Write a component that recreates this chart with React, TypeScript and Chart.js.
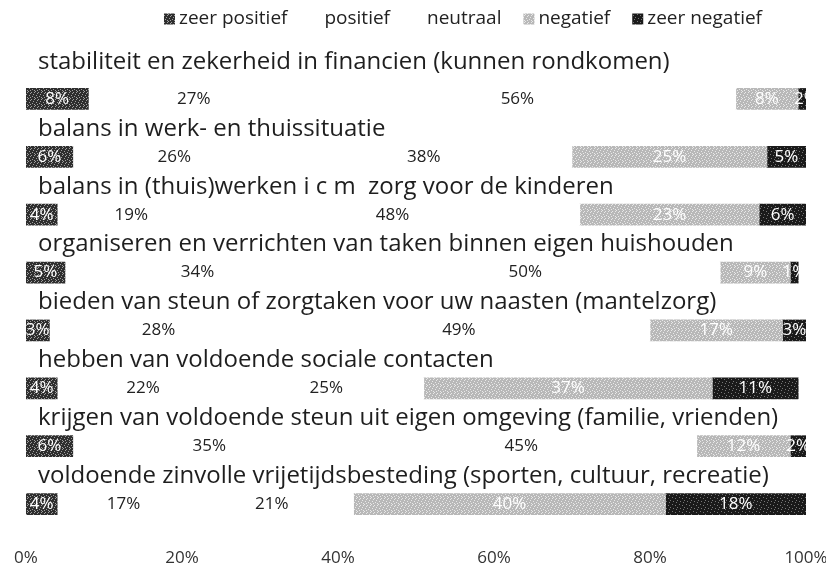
import React, { useEffect, useRef } from "react";
import { Chart, registerables } from "chart.js";

Chart.register(...registerables);

const categories = [
  "stabiliteit en zekerheid in financien (kunnen rondkomen)",
  "balans in werk- en thuissituatie",
  "balans in (thuis)werken i c m  zorg voor de kinderen",
  "organiseren en verrichten van taken binnen eigen huishouden",
  "bieden van steun of zorgtaken voor uw naasten (mantelzorg)",
  "hebben van voldoende sociale contacten",
  "krijgen van voldoende steun uit eigen omgeving (familie, vrienden)",
  "voldoende zinvolle vrijetijdsbesteding (sporten, cultuur, recreatie)",
];

const seriesNames = ["zeer positief", "positief", "neutraal", "negatief", "zeer negatief"];

const zeerPositief = [8, 6, 4, 5, 3, 4, 6, 4];
const positief = [27, 26, 19, 34, 28, 22, 35, 17];
const neutraal = [56, 38, 48, 50, 49, 25, 45, 21];
const negatief = [8, 25, 23, 9, 17, 37, 12, 40];
const zeerNegatief = [2, 5, 6, 1, 3, 11, 2, 18];

const xTickValues = [0, 20, 40, 60, 80, 100];

const FONT = "'Open Sans', 'DejaVu Sans', sans-serif";

function makePattern(base: string, speck: string, cells: number[][], size: number) {
  const c = document.createElement("canvas");
  c.width = size;
  c.height = size;
  const g = c.getContext("2d")!;
  g.fillStyle = base;
  g.fillRect(0, 0, size, size);
  g.fillStyle = speck;
  cells.forEach(([x, y]) => g.fillRect(x, y, 1, 1));
  return g.createPattern(c, "repeat")!;
}

const speckCells = [[0, 0], [3, 1], [5, 3], [1, 4], [4, 5], [2, 2], [6, 6], [2, 6], [6, 1]];

export default function App() {
  const ref = useRef<HTMLCanvasElement | null>(null);

  useEffect(() => {
    if (!ref.current) return;
    const pDark = makePattern("#2e2e2e", "#a0a0a0", speckCells, 7);
    const pLight = makePattern("#b8b8b8", "#e8e8e8", speckCells, 7);
    const pBlack = makePattern("#1a1a1a", "#777777", speckCells.slice(0, 5), 7);

    const values = [zeerPositief, positief, neutraal, negatief, zeerNegatief];
    const fills: any[] = [pDark, "#ffffff", "#ffffff", pLight, pBlack];
    const textColors = ["#ffffff", "#222222", "#222222", "#ffffff", "#ffffff"];

    const labelPlugin = {
      id: "segLabels",
      afterDatasetsDraw(chart: any) {
        const { ctx, chartArea } = chart;
        // segment value labels
        ctx.save();
        ctx.beginPath();
        ctx.rect(chartArea.left, chartArea.top, chartArea.right - chartArea.left, chartArea.bottom - chartArea.top);
        ctx.clip();
        ctx.font = `17px ${FONT}`;
        ctx.textAlign = "center";
        ctx.textBaseline = "middle";
        chart.data.datasets.forEach((ds: any, di: number) => {
          const meta = chart.getDatasetMeta(di);
          meta.data.forEach((bar: any, i: number) => {
            const { x, base, y } = bar.getProps(["x", "base", "y"], true);
            ctx.fillStyle = textColors[di];
            ctx.fillText(ds.data[i] + "%", (x + base) / 2, y);
          });
        });
        ctx.restore();

        // category labels above the bars
        const yScale = chart.scales.y;
        ctx.save();
        ctx.font = `24px ${FONT}`;
        ctx.fillStyle = "#1e1e1e";
        ctx.textAlign = "left";
        ctx.textBaseline = "middle";
        categories.forEach((c, i) => {
          const y = yScale.getPixelForValue(i) - (i === 0 ? 37 : 28);
          ctx.fillText(c, 38, y);
        });
        ctx.restore();

        // legend
        ctx.save();
        ctx.font = `19px ${FONT}`;
        ctx.textBaseline = "middle";
        ctx.textAlign = "left";
        const box = 11;
        const gapBox = 4;
        const gapItem = 22;
        const widths = seriesNames.map((n) => box + gapBox + ctx.measureText(n).width);
        const total = widths.reduce((a, b) => a + b, 0) + gapItem * (seriesNames.length - 1);
        let x = 463 - total / 2;
        const ly = 19;
        seriesNames.forEach((n, i) => {
          ctx.fillStyle = fills[i];
          ctx.fillRect(x, ly - box / 2, box, box);
          ctx.fillStyle = "#222222";
          ctx.fillText(n, x + box + gapBox, ly);
          x += widths[i] + gapItem;
        });
        ctx.restore();
      },
    };

    const chart = new Chart(ref.current, {
      type: "bar",
      data: {
        labels: categories,
        datasets: values.map((v, i) => ({
          label: seriesNames[i],
          data: v,
          backgroundColor: fills[i],
          borderWidth: 0,
          barThickness: 21,
        })),
      },
      options: {
        indexAxis: "y",
        responsive: false,
        animation: false,
        layout: { padding: { left: 26, right: 20, top: 70, bottom: 0 } },
        plugins: {
          legend: { display: false },
          title: { display: false },
          tooltip: { enabled: false },
        },
        scales: {
          x: {
            stacked: true,
            min: 0,
            max: 100,
            grid: { display: false, drawTicks: false },
            border: { display: false },
            afterBuildTicks: (scale: any) => {
              scale.ticks = xTickValues.map((v) => ({ value: v }));
            },
            afterFit: (scale: any) => {
              scale.height = 38;
              scale.paddingLeft = 0;
              scale.paddingRight = 0;
            },
            ticks: {
              padding: 15,
              color: "#333333",
              font: { family: FONT, size: 17 },
              callback: (v: any) => v + "%",
            },
          },
          y: {
            stacked: true,
            display: false,
          },
        },
      } as any,
      plugins: [labelPlugin],
    });
    return () => chart.destroy();
  }, []);

  return (
    <div style={{ position: "absolute", left: 0, top: 0, width: 826, height: 571, background: "#ffffff" }}>
      <canvas ref={ref} width={826} height={571} />
    </div>
  );
}
